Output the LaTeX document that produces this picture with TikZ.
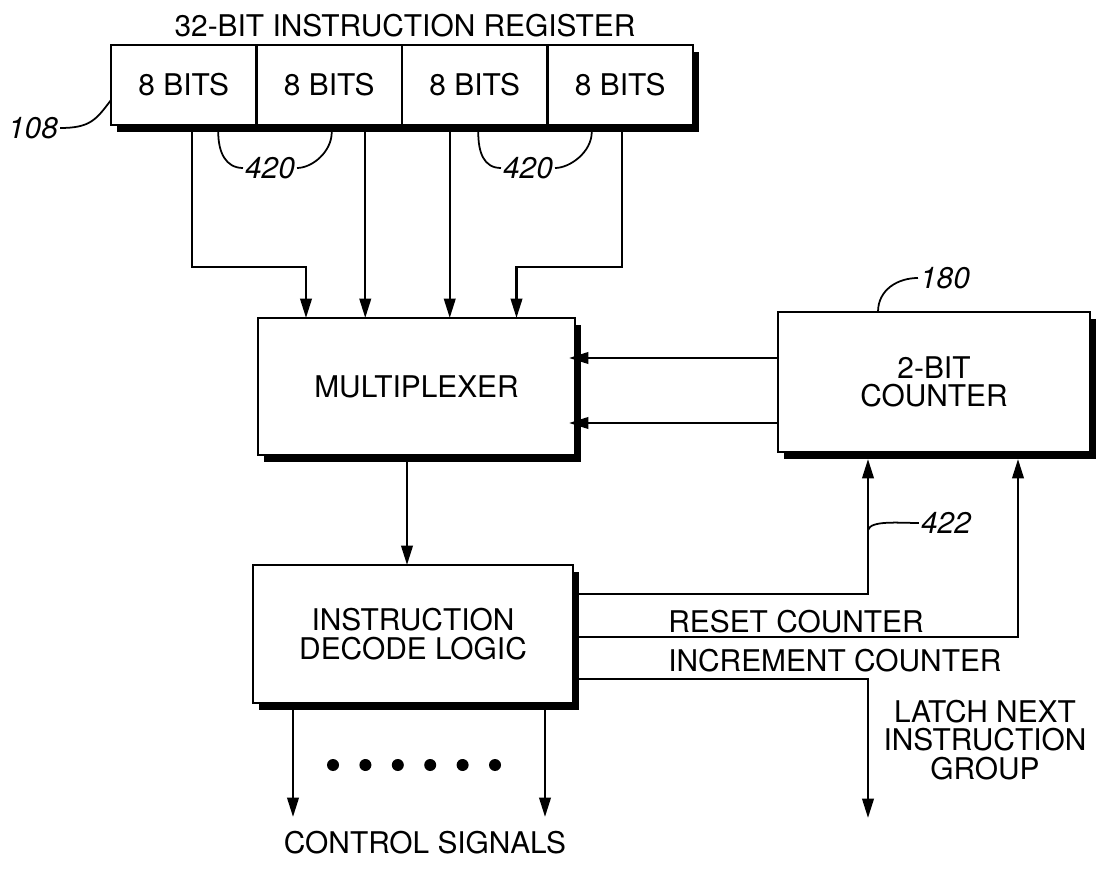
\documentclass[tikz,border=0pt]{standalone}
\usepackage{fontspec}
\setmainfont{TeX Gyre Heros}
\usetikzlibrary{positioning, calc, arrows.meta, shadows}
\tikzset{
    base/.style={
        font=\fontsize{17}{16.2}\selectfont,
        align=center
    },
    blk/.style={
        base,
        rectangle,
        draw=black,
        line width=1.5pt,
        fill=white,
        inner sep=0pt,
        outer sep=0pt,
        drop shadow={shadow xshift=0.12cm, shadow yshift=-0.14cm, fill=black, opacity=1}
    },
    cell/.style={
        blk,
        minimum width=2.91cm,
        minimum height=1.6cm
    },
    flow/.style={
        -{Triangle[length=11pt, width=6.5pt]},
        line width=1.4pt
    },
    lead/.style={
        line width=1pt
    },
    refnum/.style={
        font=\fontsize{17}{16.2}\selectfont\itshape,
        inner sep=1pt
    },
    sig/.style={
        base,
        inner sep=0pt
    }
}

\begin{document}
\begin{tikzpicture}
  \useasboundingbox (0,0) rectangle (21.96,17.8);

  % Register
  \node[cell] (c1) at (3.675,16.1) {8 BITS};
  \node[cell, right=0pt of c1] (c2) {8 BITS};
  \node[cell, right=0pt of c2] (c3) {8 BITS};
  \node[cell, right=0pt of c3] (c4) {8 BITS};
  \node[base] (title) at (8.1,17.28) {32-BIT INSTRUCTION REGISTER};

  % Blocks
  \node[blk, minimum width=6.34cm, minimum height=2.74cm] (mux) at (8.33,10.07) {MULTIPLEXER};
  \node[blk, minimum width=6.24cm, minimum height=2.8cm] (cnt) at (18.68,10.16) {2-BIT\\COUNTER};
  \node[blk, minimum width=6.4cm, minimum height=2.76cm] (dec) at (8.26,5.12) {INSTRUCTION\\DECODE LOGIC};

  % Register to multiplexer
  \path ([xshift=0.16cm]c1.south) coordinate (b1)
        ([xshift=0.72cm]c2.south) coordinate (b2)
        ([xshift=-0.5cm]c3.south) coordinate (b3)
        ([xshift=0.04cm]c4.south) coordinate (b4);
  \draw[flow] (b1) -- ++(0,-2.84) -| ([xshift=-2.21cm]mux.north);
  \draw[flow] (b2) -- (b2 |- mux.north);
  \draw[flow] (b3) -- (b3 |- mux.north);
  \draw[flow] (b4) -- ++(0,-2.84) -| ([xshift=2.0cm]mux.north);

  % Counter to multiplexer
  \path ([yshift=0.48cm]cnt.west) coordinate (q1)
        ([yshift=-0.82cm]cnt.west) coordinate (q0);
  \draw[flow, shorten >=-0.12cm] (q1) -- (q1 -| mux.east);
  \draw[flow, shorten >=-0.12cm] (q0) -- (q0 -| mux.east);

  % Multiplexer to decode
  \path ([xshift=-0.19cm]mux.south) coordinate (m0);
  \draw[flow] (m0) -- (m0 |- dec.north);

  % Decode outputs
  \path ([yshift=0.8cm]dec.east) coordinate (rst)
        ([yshift=-0.06cm]dec.east) coordinate (inc)
        ([yshift=-0.9cm]dec.east) coordinate (lat)
        ([xshift=-1.32cm]cnt.south) coordinate (rstup)
        ([xshift=1.68cm]cnt.south) coordinate (incup);
  \draw[flow, shorten >=0.14cm] (rst) -| (rstup);
  \draw[flow, shorten >=0.14cm] (inc) -| (incup);
  \coordinate (latchend) at (17.36,1.44);
  \draw[flow] (lat) -| (latchend);
  \node[sig, anchor=west] (rstlbl) at (13.36,5.36) {RESET COUNTER};
  \node[sig, anchor=west] (inclbl) at (13.36,4.58) {INCREMENT COUNTER};
  \node[base] (latch) at (19.7,3.0) {LATCH NEXT\\INSTRUCTION\\GROUP};

  % Control signals
  \coordinate (sigL) at (5.86,1.46);
  \coordinate (sigR) at (10.9,1.46);
  \draw[flow] (sigL |- dec.south) -- (sigL);
  \draw[flow] (sigR |- dec.south) -- (sigR);
  \foreach \i in {0,...,5}
    \fill (6.66+0.648*\i,2.5) circle (0.12);
  \node[base] (ctl) at (8.5,0.94) {CONTROL SIGNALS};

  % Reference numerals
  \node[refnum] (r108) at (0.66,15.24) {108};
  \draw[lead] (r108.east) .. controls +(0.6,0) and +(-0.3,-0.4) .. ([yshift=-0.3cm]c1.west);
  \node[refnum] (r420a) at (5.4,14.44) {420};
  \draw[lead] (r420a.west) .. controls +(-0.35,0) and +(0,-0.4) .. ([xshift=0.69cm,yshift=-0.14cm]c1.south);
  \draw[lead] (r420a.east) .. controls +(0.3,0) and +(0,-0.4) .. ([xshift=0.05cm,yshift=-0.14cm]c2.south);
  \node[refnum] (r420b) at (10.56,14.44) {420};
  \draw[lead] (r420b.west) .. controls +(-0.35,0) and +(0,-0.4) .. ([xshift=0.07cm,yshift=-0.14cm]c3.south);
  \draw[lead] (r420b.east) .. controls +(0.3,0) and +(0,-0.4) .. ([xshift=-0.57cm,yshift=-0.14cm]c4.south);
  \node[refnum] (r180) at (18.9,12.24) {180};
  \draw[lead] ([xshift=-1.12cm]cnt.north) .. controls +(0,0.45) and +(-0.4,0) .. (r180.west);
  \node[refnum] (r422) at (18.92,7.34) {422};
  \draw[lead] ($(rstup)!0.55!(rstup |- rst)$) .. controls +(0.05,0.2) and +(-0.4,0) .. (r422.west);
\end{tikzpicture}
\end{document}
